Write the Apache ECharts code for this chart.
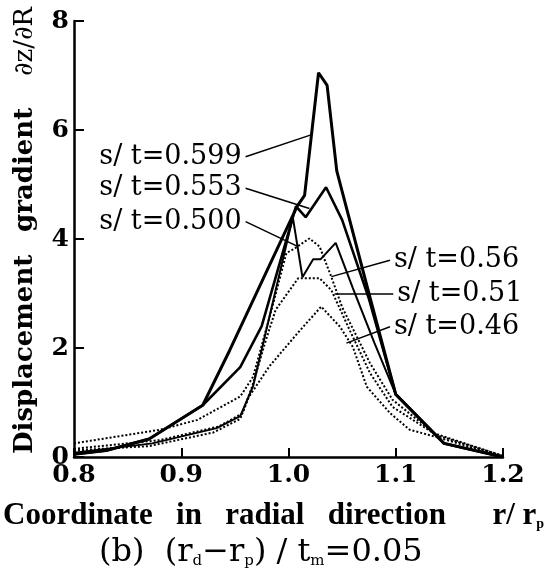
<!DOCTYPE html>
<html><head><meta charset="utf-8">
<script src="https://cdn.jsdelivr.net/npm/echarts@6/dist/echarts.min.js"></script>
<style>html,body{margin:0;padding:0;background:#fff}#c{width:552px;height:578px}</style>
</head><body><div id="c"></div>
<script>
// Data (r/rp, dz/dR)
const x599 = [0.80, 0.83, 0.87, 0.92, 0.945, 1.008, 1.015, 1.028, 1.036, 1.045, 1.075, 1.10, 1.145, 1.20];
const y599 = [0.05, 0.12, 0.33, 0.95, 1.95, 4.6, 4.8, 7.05, 6.82, 5.25, 3.0, 1.15, 0.25, 0.0];
const x553 = [0.80, 0.83, 0.87, 0.92, 0.955, 0.975, 1.007, 1.016, 1.035, 1.05, 1.075, 1.10, 1.145, 1.20];
const y553 = [0.05, 0.12, 0.33, 0.95, 1.65, 2.4, 4.6, 4.4, 4.95, 4.35, 2.9, 1.15, 0.25, 0.0];
const x500 = [0.80, 0.873, 0.933, 0.955, 0.967, 1.004, 1.013, 1.023, 1.03, 1.044, 1.06, 1.08, 1.10, 1.145, 1.20];
const y500 = [0.08, 0.25, 0.53, 0.75, 1.3, 4.4, 3.3, 3.63, 3.63, 3.93, 3.1, 2.1, 1.15, 0.25, 0.0];
const x56 = [0.80, 0.88, 0.915, 0.955, 0.967, 0.985, 0.998, 1.006, 1.0195, 1.029, 1.04, 1.05, 1.076, 1.097, 1.138, 1.20];
const y56 = [0.25, 0.5, 0.68, 1.11, 1.47, 2.76, 3.74, 3.83, 4.01, 3.86, 3.3, 2.75, 1.72, 1.05, 0.4, 0.02];
const x51 = [0.80, 0.88, 0.935, 0.957, 0.966, 0.979, 0.988, 1.009, 1.029, 1.04, 1.057, 1.076, 1.097, 1.135, 1.20];
const y51 = [0.15, 0.31, 0.56, 0.8, 1.29, 2.15, 2.7, 3.28, 3.28, 3.06, 2.33, 1.54, 0.92, 0.44, 0.02];
const x46 = [0.80, 0.87, 0.93, 0.955, 0.963, 0.982, 1.0075, 1.0305, 1.048, 1.06, 1.073, 1.095, 1.113, 1.141, 1.20];
const y46 = [0.12, 0.2, 0.45, 0.7, 1.1, 1.66, 2.25, 2.76, 2.39, 2.02, 1.29, 0.8, 0.5, 0.35, 0.0];

const seriesNames = ['s/ t=0.599', 's/ t=0.553', 's/ t=0.500', 's/ t=0.56', 's/ t=0.51', 's/ t=0.46'];
// leader lines: label anchor -> curve point (data coords)
const leaderFrom = [[0.960, 5.51], [0.960, 4.93], [0.960, 4.32], [1.0946, 3.61], [1.0977, 2.99], [1.0946, 2.39]];
const leaderTo = [[1.021, 5.91], [1.0195, 4.56], [1.009, 3.86], [1.040, 3.31], [1.043, 2.99], [1.054, 2.09]];
const labelSide = ['left', 'left', 'left', 'right', 'right', 'right'];

const xTicks = [0.8, 0.9, 1.0, 1.1, 1.2];
const yTicks = [0, 2, 4, 6, 8];

const xs = [x599, x553, x500, x56, x51, x46];
const ys = [y599, y553, y500, y56, y51, y46];
const widths = [3, 2.6, 2, 2, 2, 2];
const types = ['solid', 'solid', 'solid', [2, 2], [2, 2], [2, 2]];

const zip = (a, b) => a.map((v, i) => [v, b[i]]);
const labelFont = { fontFamily: 'DejaVu Serif', fontSize: 27, color: '#000' };

const series = xs.map((xv, i) => ({
  name: seriesNames[i],
  type: 'line',
  data: zip(xv, ys[i]),
  symbol: 'none',
  lineStyle: { color: '#000', width: widths[i], type: types[i] },
  z: 3,
  markLine: {
    silent: true, symbol: 'none', animation: false,
    lineStyle: { color: '#000', width: 1.5, type: 'solid' },
    label: { show: false },
    data: [[{ coord: leaderFrom[i] }, { coord: leaderTo[i] }]]
  },
  markPoint: {
    silent: true, symbol: 'circle', symbolSize: 0, animation: false,
    data: [{ coord: leaderFrom[i] }],
    label: Object.assign({
      show: true, position: labelSide[i], distance: 4,
      formatter: seriesNames[i]
    }, labelFont)
  }
}));

const subStyle = { fontSize: 15, fontFamily: 'DejaVu Serif', verticalAlign: 'bottom', padding: [12, 0, 0, 0] };
const chart = echarts.init(document.getElementById('c'), null, { renderer: 'canvas' });
chart.setOption({
  animation: false,
  backgroundColor: '#fff',
  grid: { left: 74, right: 49, top: 21, bottom: 121, containLabel: false },
  xAxis: {
    type: 'value', min: xTicks[0], max: xTicks[xTicks.length - 1], interval: 0.1,
    axisLine: { lineStyle: { color: '#000', width: 2.5 } },
    axisTick: { inside: true, length: 9, lineStyle: { color: '#000', width: 2 } },
    splitLine: { show: false },
    axisLabel: { formatter: v => v.toFixed(1), margin: 6, fontFamily: 'DejaVu Serif', fontWeight: 'bold', fontSize: 25, color: '#000' }
  },
  yAxis: {
    type: 'value', min: yTicks[0], max: yTicks[yTicks.length - 1], interval: 2,
    axisLine: { show: true, lineStyle: { color: '#000', width: 2.5 } },
    axisTick: { show: true, inside: true, length: 10, lineStyle: { color: '#000', width: 2 } },
    splitLine: { show: false },
    axisLabel: { margin: 5, fontFamily: 'DejaVu Serif', fontWeight: 'bold', fontSize: 25, color: '#000' }
  },
  series: series,
  graphic: [
    { type: 'text', left: 3, top: 500, style: { text: 'Coordinate   in   radial   direction      r/ r{p|p}', fontFamily: 'Liberation Serif', fontWeight: 'bold', fontSize: 31, fill: '#000', rich: { p: Object.assign({}, subStyle, { fontSize: 14, fontFamily: 'Liberation Serif', fontWeight: 'bold' }) } } },
    { type: 'text', left: 99, top: 537, style: { text: '(b)  (r{p|d}−r{p|p}) / t{p|m}=0.05', fontFamily: 'DejaVu Serif', fontSize: 32, fill: '#000', rich: { p: subStyle } } },
    { type: 'text', x: 12, y: 454, rotation: Math.PI / 2, style: { text: 'Displacement', fontFamily: 'DejaVu Serif', fontWeight: 'bold', fontSize: 26, fill: '#000', align: 'left', verticalAlign: 'top' } },
    { type: 'text', x: 12, y: 232, rotation: Math.PI / 2, style: { text: 'gradient', fontFamily: 'DejaVu Serif', fontWeight: 'bold', fontSize: 26, fill: '#000', align: 'left', verticalAlign: 'top' } },
    { type: 'text', x: 12, y: 76, rotation: Math.PI / 2, style: { text: '∂z/∂R', fontFamily: 'DejaVu Serif', fontSize: 26, fill: '#000', align: 'left', verticalAlign: 'top' } }
  ]
});
</script></body></html>
